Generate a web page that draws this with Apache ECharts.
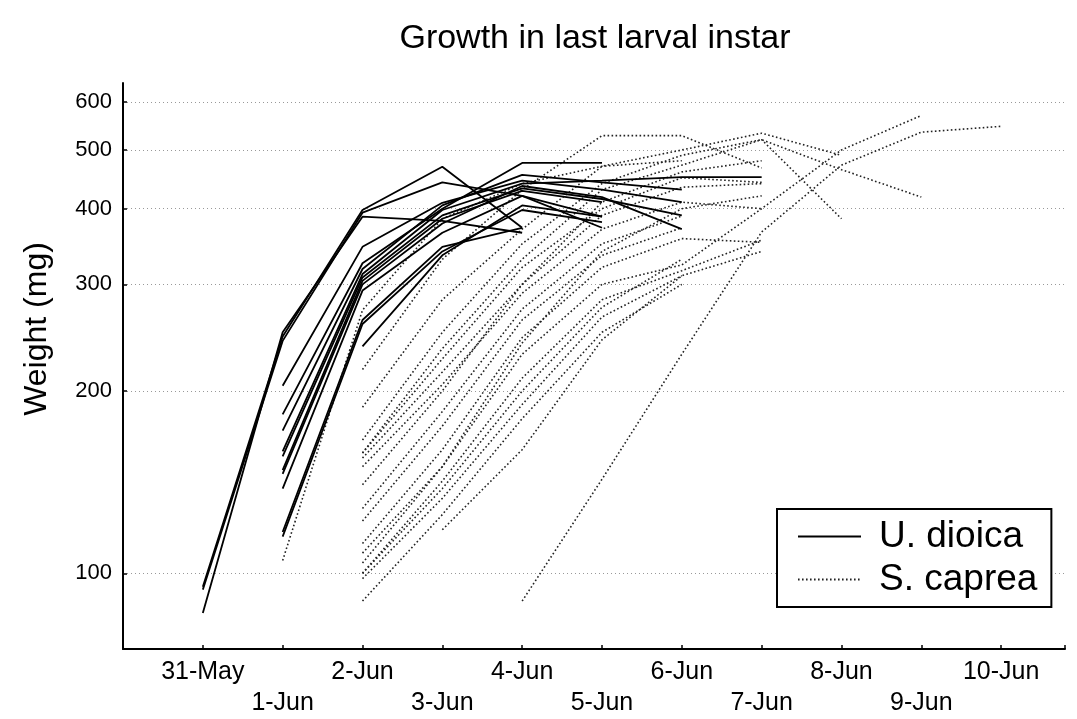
<!DOCTYPE html>
<html><head><meta charset="utf-8">
<script src="https://cdn.jsdelivr.net/npm/echarts@6/dist/echarts.min.js"></script>
<style>html,body{margin:0;padding:0;background:#fff}#c{width:1077px;height:719px}</style>
</head><body><div id="c"></div>
<script>
// X axis: day index 0 = 31-May
const dayLabels = ['31-May','1-Jun','2-Jun','3-Jun','4-Jun','5-Jun','6-Jun','7-Jun','8-Jun','9-Jun','10-Jun'];
const yTicks = [100, 200, 300, 400, 500, 600];

// U. dioica: first day index of each larva and daily weights (mg)
const dioicaStart = [0, 0, 0, 1, 1, 1, 1, 1, 1, 1, 1, 1, 1, 2];
const dioicaWeights = [
  [95, 246, 398, 469, 372],
  [94, 242, 394, 442, 420, 388],
  [86, 250, 388, 382, 365],
  [204, 346, 409, 445, 430, 410],
  [183, 325, 400, 476, 476],
  [172, 318, 405, 455, 442, 430],
  [159, 312, 398, 440, 445, 451, 451],
  [156, 308, 390, 432, 415, 390],
  [148, 304, 385, 428, 410],
  [146, 300, 378, 436, 418, 370],
  [138, 293, 365, 420, 372],
  [117, 262, 346, 372],
  [115, 258, 340, 398, 380],
  [237, 335, 405, 388]
];

// S. caprea
const capreaStart = [1, 2, 2, 2, 2, 2, 2, 2, 2, 2, 2, 2, 2, 2, 2, 2, 3, 4, 2, 2];
const capreaWeights = [
  [105, 272, 385, 440, 470, 480],
  [217, 330, 430, 528, 528, 467],
  [188, 283, 370, 470, 500, 533, 490],
  [166, 250, 350, 440, 490, 520, 464, 418],
  [158, 235, 330, 430, 472, 520, 385],
  [158, 226, 320, 400, 450, 442],
  [155, 215, 300, 390, 434, 440],
  [150, 205, 290, 370, 410, 400],
  [128, 185, 273, 350, 389],
  [122, 175, 262, 335, 372],
  [112, 160, 245, 320, 357, 352],
  [108, 150, 230, 300, 323, 400, 500, 570],
  [100, 142, 210, 283, 316, 355],
  [100, 138, 200, 275, 330],
  [98, 133, 190, 265, 310],
  [90, 125, 180, 250, 300],
  [118, 160, 243, 310, 340],
  [90, 143, 230, 366, 472, 535, 547],
  [140, 200, 300, 410, 460, 480],
  [104, 150, 240, 340, 400, 420]
];

const FONT = "'Liberation Sans', Arial, Helvetica, sans-serif";

function toSeries(name, starts, weights, style, color) {
  return weights.map((w, k) => ({
    name: name,
    type: 'line',
    symbol: 'none',
    silent: true,
    color: color,
    itemStyle: {color: color},
    data: w.map((v, i) => [starts[k] + i, v]),
    lineStyle: style
  }));
}

const series = [].concat(
  toSeries('S. caprea', capreaStart, capreaWeights, {color: '#222', width: 1.6, type: [1.6, 2.4]}, '#222'),
  toSeries('U. dioica', dioicaStart, dioicaWeights, {color: '#000', width: 1.8, type: 'solid'}, '#000')
);

const chart = echarts.init(document.getElementById('c'), null, {renderer: 'canvas'});
chart.setOption({
  animation: false,
  backgroundColor: '#fff',
  title: {
    text: 'Growth in last larval instar',
    left: 590, top: 17, textAlign: 'center',
    textStyle: {fontFamily: FONT, fontSize: 34, fontWeight: 'normal', color: '#000'}
  },
  grid: {left: 123, right: 12, top: 83, bottom: 68, containLabel: false},
  legend: {
    data: ['U. dioica', 'S. caprea'],
    orient: 'vertical', left: 777, top: 509,
    selectedMode: false,
    backgroundColor: '#fff',
    borderColor: '#000', borderWidth: 2, borderRadius: 0,
    padding: [9, 14, 9, 20],
    itemGap: 6, itemWidth: 63, itemHeight: 2,
    itemStyle: {opacity: 0, borderWidth: 0},
    textStyle: {fontFamily: FONT, fontSize: 37, color: '#000', padding: [0, 0, 0, 13]}
  },
  xAxis: {
    type: 'value', min: -1, max: 10.8, interval: 1,
    axisLine: {onZero: false, lineStyle: {color: '#000', width: 2}},
    axisTick: {inside: true, length: 4, lineStyle: {color: '#000', width: 1.5}},
    splitLine: {show: false},
    axisLabel: {
      margin: 8, fontFamily: FONT, fontSize: 25, color: '#000', lineHeight: 31,
      formatter: function (v) {
        const i = Math.round(v);
        if (Math.abs(v - i) > 1e-6 || i < 0 || i >= dayLabels.length) return '';
        return (i % 2 === 1 ? '\n' : '') + dayLabels[i];
      }
    }
  },
  yAxis: {
    type: 'log', logBase: 10, min: 75, max: 645,
    name: 'Weight (mg)', nameLocation: 'middle', nameGap: 70,
    nameTextStyle: {fontFamily: FONT, fontSize: 32, color: '#000', padding: [0, 0, 0, 74]},
    axisLine: {show: true, onZero: false, lineStyle: {color: '#000', width: 2}},
    axisTick: {show: true, inside: true, length: 4, customValues: yTicks, lineStyle: {color: '#000', width: 1.5}},
    axisLabel: {customValues: yTicks, margin: 11, fontFamily: FONT, fontSize: 22, color: '#000'},
    splitLine: {show: true, lineStyle: {color: '#999', width: 1, type: [1, 3]}}
  },
  series: series
});
</script>
</body></html>
